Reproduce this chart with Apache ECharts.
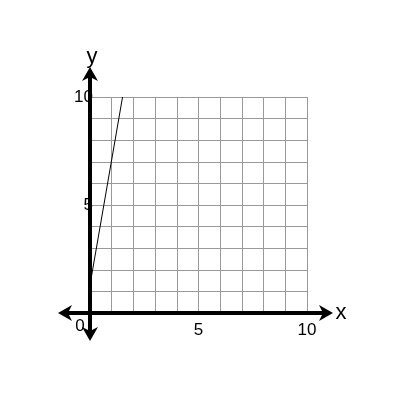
<!DOCTYPE html><html><head><meta charset="utf-8">
<script src="https://cdn.jsdelivr.net/npm/echarts@6/dist/echarts.min.js"></script>
<style>html,body{margin:0;background:#fff}#c{width:400px;height:400px}</style></head><body><div id="c"></div>
<script>
const lineX = [0, 1.5];
const lineY = [1.3, 10];
const xTicks = [5, 10];
const yTicks = [5, 10];
const F = 'Liberation Sans, Arial, sans-serif';
const chart = echarts.init(document.getElementById('c'));
chart.setOption({
  animation:false,
  grid:{left:90,right:93,top:97,bottom:87},
  xAxis:{type:'value',min:0,max:10,interval:1,axisLine:{show:false},axisTick:{show:false},
    splitLine:{lineStyle:{color:'#999',width:1}},
    axisLabel:{color:'#000',fontSize:17,fontFamily:F,margin:9,
      formatter:v=>xTicks.includes(v)?String(v):''}},
  yAxis:{type:'value',min:0,max:10,interval:1,axisLine:{show:false},axisTick:{show:false},
    splitLine:{lineStyle:{color:'#999',width:1}},
    axisLabel:{color:'#000',fontSize:17,fontFamily:F,margin:-3,verticalAlign:'middle',
      formatter:v=>yTicks.includes(v)?String(v):''}},
  series:[{type:'line',data:lineX.map((x,i)=>[x,lineY[i]]),symbol:'none',
    lineStyle:{color:'#000',width:1},z:3}]
});
const p = (x,y)=>chart.convertToPixel({gridIndex:0},[x,y]);
const o = p(0,0), xe = p(10,0), ye = p(0,10);
const L = 58, R = xe[0]+26, T = ye[1]-30, B = o[1]+28;
const ah = 12, aw = 8;
chart.setOption({graphic:[
  {type:'line',shape:{x1:L+ah-2,y1:o[1],x2:R-ah+2,y2:o[1]},style:{stroke:'#000',lineWidth:4},z:10},
  {type:'line',shape:{x1:o[0],y1:T+ah-2,x2:o[0],y2:B-ah+2},style:{stroke:'#000',lineWidth:4},z:10},
  {type:'polygon',shape:{points:[[L,o[1]],[L+ah+2,o[1]-aw],[L+ah-2,o[1]],[L+ah+2,o[1]+aw]]},style:{fill:'#000'},z:10},
  {type:'polygon',shape:{points:[[R,o[1]],[R-ah-2,o[1]-aw],[R-ah+2,o[1]],[R-ah-2,o[1]+aw]]},style:{fill:'#000'},z:10},
  {type:'polygon',shape:{points:[[o[0],T],[o[0]-aw,T+ah+2],[o[0],T+ah-2],[o[0]+aw,T+ah+2]]},style:{fill:'#000'},z:10},
  {type:'polygon',shape:{points:[[o[0],B],[o[0]-aw,B-ah-2],[o[0],B-ah+2],[o[0]+aw,B-ah-2]]},style:{fill:'#000'},z:10},
  {type:'text',x:R+8,y:o[1],style:{text:'x',font:'22px '+F,fill:'#000',verticalAlign:'middle',textAlign:'center'},z:10},
  {type:'text',x:o[0]+2,y:T+1,style:{text:'y',font:'22px '+F,fill:'#000',verticalAlign:'bottom',textAlign:'center'},z:10},
  {type:'text',x:o[0]-10,y:o[1]+13,style:{text:'0',font:'17px '+F,fill:'#000',verticalAlign:'middle',textAlign:'center'},z:10}
]});
</script></body></html>
